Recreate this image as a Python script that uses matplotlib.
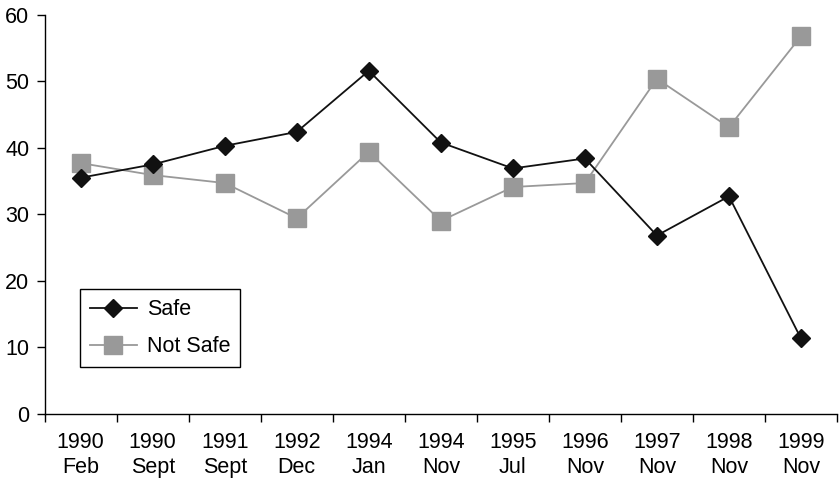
import numpy as np
import matplotlib
matplotlib.use('Agg')
import matplotlib.pyplot as plt
from matplotlib.ticker import FixedLocator, MultipleLocator

plt.rcParams['font.family'] = ['Liberation Sans', 'DejaVu Sans']

# survey dates (year / month)
years  = ['1990', '1990', '1991', '1992', '1994', '1994', '1995', '1996', '1997', '1998', '1999']
months = ['Feb', 'Sept', 'Sept', 'Dec', 'Jan', 'Nov', 'Jul', 'Nov', 'Nov', 'Nov', 'Nov']

# percentages
safe     = [35.5, 37.5, 40.3, 42.4, 51.6, 40.8, 36.9, 38.4, 26.8, 32.7, 11.3]
not_safe = [37.7, 35.9, 34.7, 29.4, 39.4, 29.0, 34.1, 34.7, 50.4, 43.1, 56.8]

labels = ['%s\n%s' % (y, m) for y, m in zip(years, months)]
x = np.arange(len(labels))

fig = plt.figure(figsize=(8.4, 4.79), dpi=100)
ax = fig.add_axes([0.0532, 0.1367, 0.9432, 0.832])

ax.plot(x, safe, color='#111111', linewidth=1.3, marker='D', markersize=9.6,
        markerfacecolor='#111111', markeredgecolor='#111111', label='Safe', zorder=3)
ax.plot(x, not_safe, color='#999999', linewidth=1.3, marker='s', markersize=12.8,
        markerfacecolor='#999999', markeredgecolor='#999999', label='Not Safe', zorder=2)

ax.set_xlim(-0.5, len(labels) - 0.5)
ax.set_ylim(0, 60)
ax.yaxis.set_major_locator(MultipleLocator(10))

# labels centred in each slot, tick marks on the slot boundaries
ax.set_xticks(x)
ax.set_xticklabels(labels, fontsize=15.5, linespacing=1.25)
ax.xaxis.set_minor_locator(FixedLocator(np.arange(-0.5, len(labels), 1.0)))
ax.tick_params(axis='x', which='major', length=0, pad=13)
ax.tick_params(axis='x', which='minor', length=6, width=1, direction='out')
ax.tick_params(axis='y', length=6, width=1, pad=5, labelsize=15.5)

for s in ['top', 'right']:
    ax.spines[s].set_visible(False)
for s in ['left', 'bottom']:
    ax.spines[s].set_linewidth(1)

leg = ax.legend(loc='lower left', bbox_to_anchor=(0.0446, 0.117), borderaxespad=0,
                fontsize=15.5, handlelength=2.2, handletextpad=0.45, labelspacing=0.75,
                fancybox=False, framealpha=1, edgecolor='black', borderpad=0.45)
leg.get_frame().set_linewidth(1)

fig.savefig('out.png', dpi=100)
